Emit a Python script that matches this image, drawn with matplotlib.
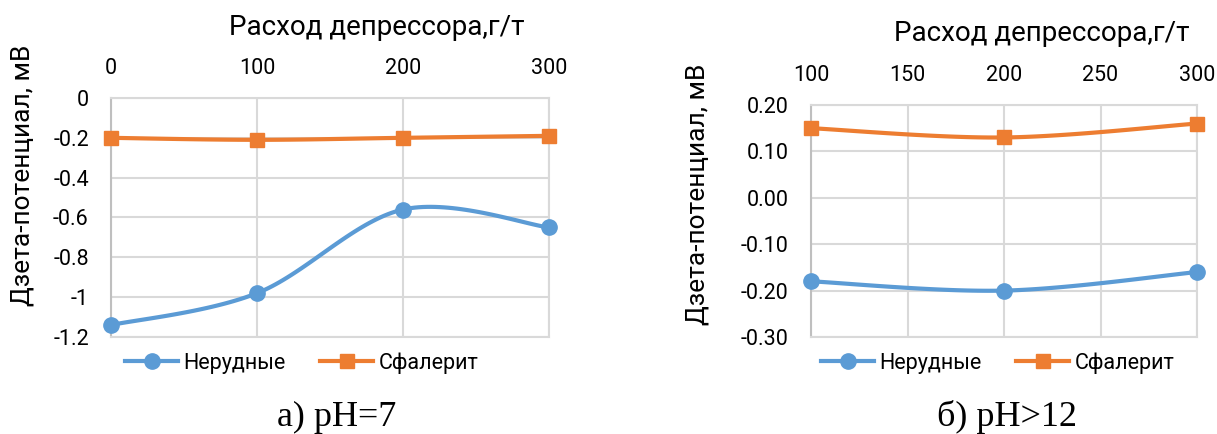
import numpy as np
import matplotlib
matplotlib.use('Agg')
from matplotlib import pyplot as plt

plt.rcParams['font.family'] = ['Roboto', 'DejaVu Sans']

# a) pH=7
x_a = [0, 100, 200, 300]
nerud_a = [-1.14, -0.98, -0.56, -0.65]
sfal_a = [-0.20, -0.21, -0.20, -0.19]

# b) pH>12
x_b = [100, 200, 300]
nerud_b = [-0.18, -0.20, -0.16]
sfal_b = [0.15, 0.13, 0.16]

blue = '#5b9bd5'
orange = '#ed7d31'
grid_c = '#d9d9d9'


def smooth(xs, ys, n=40):
    # excel-like smoothed line (catmull-rom through bezier)
    p = np.column_stack([xs, ys]).astype(float)
    out = []
    for i in range(len(p) - 1):
        p0 = p[i - 1] if i > 0 else p[i]
        p1, p2 = p[i], p[i + 1]
        p3 = p[i + 2] if i + 2 < len(p) else p[i + 1]
        c1 = p1 + (p2 - p0) / 6
        c2 = p2 - (p3 - p1) / 6
        t = np.linspace(0, 1, n)[:, None]
        seg = ((1 - t) ** 3 * p1 + 3 * (1 - t) ** 2 * t * c1
               + 3 * (1 - t) * t ** 2 * c2 + t ** 3 * p2)
        out.append(seg if i == 0 else seg[1:])
    out = np.vstack(out)
    return out[:, 0], out[:, 1]


def draw(ax, xs, ser1, ser2, xl, yl, leg):
    sx, sy = smooth(xs, ser1)
    ax.plot(sx, sy, color=blue, lw=3, zorder=3, clip_on=False)
    ax.plot(xs, ser1, 'o', color=blue, ms=11, zorder=4, clip_on=False)
    sx, sy = smooth(xs, ser2)
    ax.plot(sx, sy, color=orange, lw=3, zorder=3, clip_on=False)
    ax.plot(xs, ser2, 's', color=orange, ms=10.5, zorder=4, clip_on=False)
    # legend proxies
    ax.plot([], [], '-o', color=blue, lw=3, ms=11, label='Нерудные')
    ax.plot([], [], '-s', color=orange, lw=3, ms=10.5, label='Сфалерит')

    ax.xaxis.tick_top()
    ax.xaxis.set_label_position('top')
    ax.grid(True, color=grid_c, lw=1.5)
    ax.set_axisbelow(True)
    for s in ax.spines.values():
        s.set_color(grid_c)
        s.set_linewidth(1.5)
    ax.spines['left'].set_color('#bfbfbf')
    ax.tick_params(length=0, labelsize=15.5)
    ax.tick_params(axis='x', pad=13.5)
    ax.tick_params(axis='y', pad=16)
    ax.set_xlabel('Расход депрессора,г/т', fontsize=20, va='center')
    ax.xaxis.set_label_coords(*xl)
    ax.set_ylabel('Дзета-потенциал, мВ', fontsize=19, va='center')
    ax.yaxis.set_label_coords(*yl)
    ax.legend(loc='center', bbox_to_anchor=leg, ncol=2,
              frameon=False, fontsize=15.5, handlelength=2.46, columnspacing=1.6,
              handletextpad=0.25)


fig = plt.figure(figsize=(12.17, 4.34), dpi=100)
ax1 = fig.add_axes([0.0912, 0.2235, 0.3599, 0.5507])
ax2 = fig.add_axes([0.6664, 0.2235, 0.3172, 0.5346])

draw(ax1, x_a, nerud_a, sfal_a, (0.607, 1.294), (-0.201, 0.678), (0.436, -0.109))
ax1.set_xlim(0, 300)
ax1.set_xticks([0, 100, 200, 300])
ax1.set_ylim(-1.2, 0)
ax1.set_yticks([0, -0.2, -0.4, -0.6, -0.8, -1, -1.2])
ax1.set_yticklabels(['0', '-0.2', '-0.4', '-0.6', '-0.8', '-1', '-1.2'])

draw(ax2, x_b, nerud_b, sfal_b, (0.598, 1.310), (-0.293, 0.616), (0.484, -0.112))
ax2.set_xlim(100, 300)
ax2.set_xticks([100, 150, 200, 250, 300])
ax2.set_ylim(-0.3, 0.2)
ax2.set_yticks(np.arange(-0.3, 0.21, 0.1))
ax2.set_yticklabels(['-0.30', '-0.20', '-0.10', '0.00', '0.10', '0.20'])

fig.text(0.277, 0.039, 'а) рН=7', fontsize=26, family='Liberation Serif',
         ha='center', va='center')
fig.text(0.8275, 0.039, 'б) рН>12', fontsize=26, family='Liberation Serif',
         ha='center', va='center')

fig.savefig('out.png', dpi=100)
